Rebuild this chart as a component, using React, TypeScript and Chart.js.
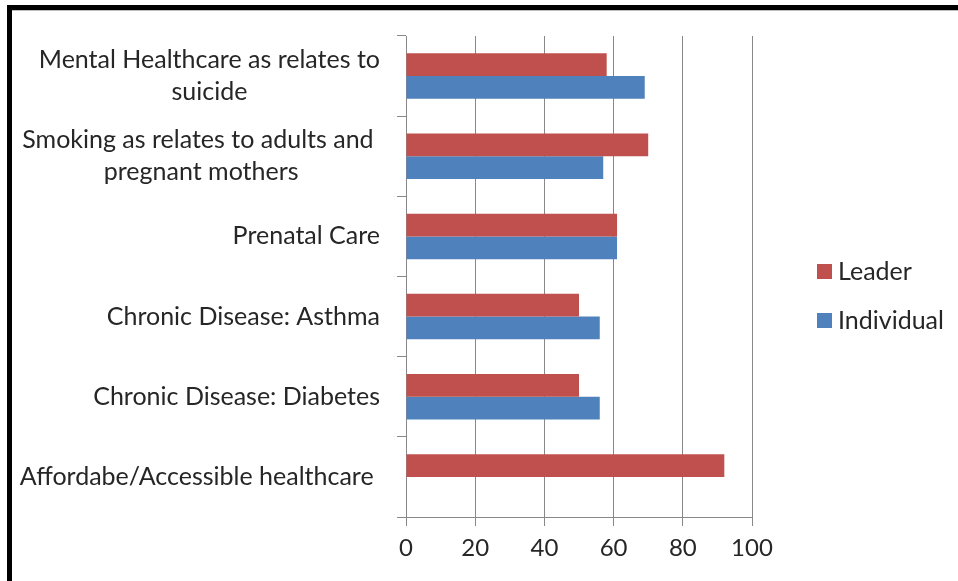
import React, { useEffect, useRef } from 'react';
import { Chart, registerables } from 'chart.js';

Chart.register(...registerables);

const categories: string[][] = [
  ['Mental Healthcare as relates to', 'suicide'],
  ['Smoking as relates to adults and ', 'pregnant mothers'],
  ['Prenatal Care'],
  ['Chronic Disease: Asthma'],
  ['Chronic Disease: Diabetes'],
  ['Affordabe/Accessible healthcare '],
];
const leaderValues = [58, 70, 61, 50, 50, 92];
const individualValues = [69, 57, 61, 56, 56, 0];
const xTickValues = [0, 20, 40, 60, 80, 100];
const seriesNames = ['Leader', 'Individual'];
const seriesColors = ['#C0504D', '#4F81BD'];

const FONT = 'Lato, "Liberation Sans", sans-serif';
const TEXT = '#262626';
const GRID = '#888888';

const yLabelPlugin = {
  id: 'yLabels',
  afterDraw(chart: any) {
    const ys = chart.scales.y;
    const ctx = chart.ctx;
    ctx.save();
    ctx.font = `25px ${FONT}`;
    ctx.fillStyle = TEXT;
    ctx.textBaseline = 'middle';
    ctx.textAlign = 'center';
    const rightEdge = ys.right - 26;
    const lineH = 32;
    (chart.data.labels as string[][]).forEach((lines, i) => {
      const cy = ys.getPixelForTick(i);
      const w = Math.max(...lines.map((l) => ctx.measureText(l).width));
      const cx = rightEdge - w / 2;
      const y0 = cy - ((lines.length - 1) * lineH) / 2;
      lines.forEach((l, j) => ctx.fillText(l, cx, y0 + j * lineH));
    });
    ctx.restore();
  },
};

const legendPlugin = {
  id: 'customLegend',
  afterDraw(chart: any) {
    const ctx = chart.ctx;
    const area = chart.chartArea;
    ctx.save();
    ctx.font = `25px ${FONT}`;
    ctx.textBaseline = 'middle';
    ctx.textAlign = 'left';
    const x = area.right + 65;
    const midY = (area.top + area.bottom) / 2 + 19;
    const gap = 49;
    chart.data.datasets.forEach((ds: any, i: number) => {
      const y = midY + (i - (chart.data.datasets.length - 1) / 2) * gap;
      ctx.fillStyle = ds.backgroundColor;
      ctx.fillRect(x, y - 7, 15, 15);
      ctx.fillStyle = TEXT;
      ctx.fillText(ds.label, x + 21, y + 1);
    });
    ctx.restore();
  },
};

export default function App() {
  const ref = useRef<HTMLCanvasElement | null>(null);

  useEffect(() => {
    if (!ref.current) return;
    const chart = new Chart(ref.current, {
      type: 'bar',
      data: {
        labels: categories as any,
        datasets: [
          {
            label: seriesNames[0],
            data: leaderValues,
            backgroundColor: seriesColors[0],
            barPercentage: 1,
            categoryPercentage: 0.567,
          },
          {
            label: seriesNames[1],
            data: individualValues,
            backgroundColor: seriesColors[1],
            barPercentage: 1,
            categoryPercentage: 0.567,
          },
        ],
      },
      options: {
        indexAxis: 'y',
        responsive: false,
        animation: false,
        layout: { padding: { top: 36, right: 206, bottom: 0, left: 0 } },
        plugins: {
          legend: { display: false },
          tooltip: { enabled: false },
        },
        scales: {
          x: {
            min: 0,
            max: 100,
            afterBuildTicks: (scale: any) => {
              scale.ticks = xTickValues.map((v) => ({ value: v }));
            },
            afterFit: (scale: any) => {
              scale.height = 64;
            },
            grid: {
              color: GRID,
              lineWidth: 1,
              tickLength: 9,
            },
            border: { color: GRID, width: 1 },
            ticks: {
              font: { family: FONT, size: 24 },
              color: TEXT,
              padding: 8,
            },
          },
          y: {
            afterFit: (scale: any) => {
              scale.width = 406;
            },
            grid: {
              drawOnChartArea: false,
              color: GRID,
              tickLength: 9,
            },
            border: { color: GRID, width: 1 },
            ticks: { display: false },
          },
        },
      },
      plugins: [yLabelPlugin, legendPlugin],
    });
    return () => chart.destroy();
  }, []);

  return (
    <div
      style={{
        position: 'absolute',
        left: 0,
        top: 0,
        width: 958,
        height: 581,
        background: '#fff',
        overflow: 'hidden',
      }}
    >
      <canvas ref={ref} width={958} height={581} style={{ position: 'absolute', left: 0, top: 0 }} />
      <div style={{ position: 'absolute', left: 7, top: 5, width: 5, height: 576, background: '#000' }} />
      <div style={{ position: 'absolute', left: 7, top: 5, width: 951, height: 5, background: '#000' }} />
      <div style={{ position: 'absolute', left: 12, top: 10, width: 946, height: 1, background: '#bdbdbd' }} />
    </div>
  );
}
